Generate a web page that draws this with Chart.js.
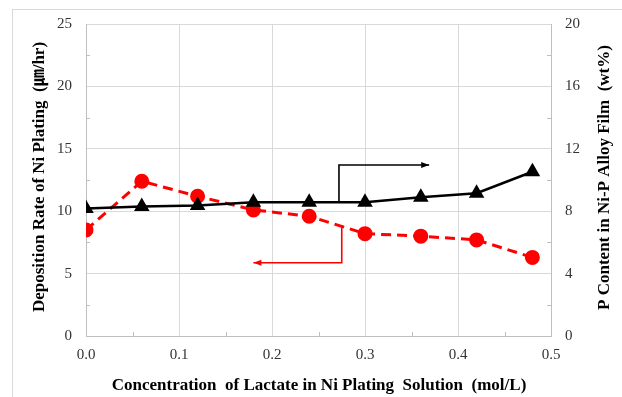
<!DOCTYPE html>
<html>
<head>
<meta charset="utf-8">
<script src="https://cdn.jsdelivr.net/npm/chart.js@4/dist/chart.umd.min.js"></script>
<style>
  html, body { margin: 0; padding: 0; background: #fff; }
  #wrap { position: relative; width: 622px; height: 397px; }
  #frame { position: absolute; left: 12px; top: 9px; right: -2px; bottom: -2px;
           border-left: 1px solid #d9d9d9; border-top: 1px solid #d9d9d9; pointer-events: none; }
</style>
</head>
<body>
<div id="wrap">
  <canvas id="c" width="622" height="397"></canvas>
  <div id="frame"></div>
</div>
<script>
// ---- data ----
const lactateConc = [0.0, 0.06, 0.12, 0.18, 0.24, 0.30, 0.36, 0.42, 0.48];
const depositionRate = [8.5, 12.4, 11.2, 10.1, 9.6, 8.2, 8.0, 7.7, 6.3];      // left axis, um/hr
const pContent = [8.17, 8.3, 8.37, 8.57, 8.57, 8.57, 8.9, 9.15, 10.53];      // right axis, wt%
const xTicks = [0.0, 0.1, 0.2, 0.3, 0.4, 0.5];
const leftTicks = [0, 5, 10, 15, 20, 25];
const rightTicks = [0, 4, 8, 12, 16, 20];
// annotation arrows (data units)
const blackArrowX = [0.272, 0.272, 0.369];
const blackArrowY = [8.59, 10.96, 10.96];   // right axis units
const redArrowX = [0.275, 0.275, 0.180];
const redArrowY = [8.81, 5.87, 5.87];       // left axis units

const xTitle = 'Concentration  of Lactate in Ni Plating  Solution  (mol/L)';
const leftTitle = 'Deposition Rate of Ni Plating  (㎛/hr)';
const rightTitle = 'P Content in Ni-P Alloy Film  (wt%)';

const serif = '"Liberation Serif", "Times New Roman", "Noto Sans CJK JP", serif';

const decor = {
  id: 'decor',
  afterDatasetsDraw(chart) {
    const ctx = chart.ctx;
    const x = chart.scales.x, yl = chart.scales.y, yr = chart.scales.y2;
    const ca = chart.chartArea;
    ctx.save();
    // minor ticks
    ctx.strokeStyle = '#bfbfbf';
    ctx.lineWidth = 1;
    ctx.beginPath();
    for (let i = 0; i < xTicks.length - 1; i++) {
      const v = (xTicks[i] + xTicks[i + 1]) / 2;
      const px = Math.round(x.getPixelForValue(v)) + 0.5;
      ctx.moveTo(px, ca.bottom); ctx.lineTo(px, ca.bottom - 4);
    }
    for (let i = 0; i < leftTicks.length - 1; i++) {
      const v = (leftTicks[i] + leftTicks[i + 1]) / 2;
      const py = Math.round(yl.getPixelForValue(v)) + 0.5;
      ctx.moveTo(ca.left, py); ctx.lineTo(ca.left + 4, py);
    }
    for (let i = 0; i < rightTicks.length - 1; i++) {
      const v = (rightTicks[i] + rightTicks[i + 1]) / 2;
      const py = Math.round(yr.getPixelForValue(v)) + 0.5;
      ctx.moveTo(ca.right, py); ctx.lineTo(ca.right - 4, py);
    }
    ctx.stroke();

    // arrows
    function arrow(xs, ys, yScale, color) {
      const pts = xs.map((v, i) => [x.getPixelForValue(v), yScale.getPixelForValue(ys[i])]);
      ctx.strokeStyle = color; ctx.fillStyle = color; ctx.lineWidth = 1.6;
      ctx.beginPath();
      ctx.moveTo(pts[0][0], pts[0][1]);
      for (let i = 1; i < pts.length; i++) ctx.lineTo(pts[i][0], pts[i][1]);
      ctx.stroke();
      const a = pts[pts.length - 2], b = pts[pts.length - 1];
      const ang = Math.atan2(b[1] - a[1], b[0] - a[0]);
      const L = 8, W = 3;
      ctx.beginPath();
      ctx.moveTo(b[0], b[1]);
      ctx.lineTo(b[0] - L * Math.cos(ang) + W * Math.sin(ang), b[1] - L * Math.sin(ang) - W * Math.cos(ang));
      ctx.lineTo(b[0] - L * Math.cos(ang) - W * Math.sin(ang), b[1] - L * Math.sin(ang) + W * Math.cos(ang));
      ctx.closePath();
      ctx.fill();
    }
    arrow(blackArrowX, blackArrowY, yr, '#000');
    arrow(redArrowX, redArrowY, yl, '#ff0000');

    // titles
    ctx.fillStyle = '#000';
    ctx.font = 'bold 17px ' + serif;
    ctx.textAlign = 'center';
    ctx.textBaseline = 'middle';
    ctx.fillText(xTitle, 319, 386);
    ctx.save();
    ctx.translate(40, 177);
    ctx.rotate(-Math.PI / 2);
    ctx.fillText(leftTitle, 0, 0);
    ctx.restore();
    ctx.save();
    ctx.translate(605, 177.5);
    ctx.rotate(-Math.PI / 2);
    ctx.fillText(rightTitle, 0, 0);
    ctx.restore();
    ctx.restore();
  }
};

new Chart(document.getElementById('c'), {
  type: 'line',
  data: {
    datasets: [
      {
        label: 'P Content',
        data: lactateConc.map((v, i) => ({ x: v, y: pContent[i] })),
        yAxisID: 'y2',
        borderColor: '#000',
        backgroundColor: '#000',
        borderWidth: 2.5,
        pointStyle: 'triangle',
        pointRadius: 6.5,
        pointHoverRadius: 6.5,
        tension: 0
      },
      {
        label: 'Deposition Rate',
        data: lactateConc.map((v, i) => ({ x: v, y: depositionRate[i] })),
        yAxisID: 'y',
        borderColor: '#ff0000',
        backgroundColor: '#ff0000',
        borderWidth: 3,
        borderDash: [10, 6],
        pointStyle: 'circle',
        pointRadius: 6,
        pointHoverRadius: 6,
        tension: 0
      }
    ]
  },
  options: {
    responsive: false,
    animation: false,
    events: [],
    layout: { padding: { top: 24, left: 0, right: 0, bottom: 0 } },
    plugins: { legend: { display: false }, tooltip: { enabled: false } },
    scales: {
      x: {
        type: 'linear', min: 0, max: 0.5,
        afterBuildTicks(s) { s.ticks = xTicks.map(v => ({ value: v })); },
        afterFit(s) { s.height = 61; },
        grid: { color: '#d9d9d9', drawTicks: false },
        border: { color: '#bfbfbf' },
        ticks: { padding: 10, color: '#333', font: { family: serif, size: 15 },
                 callback: v => Number(v).toFixed(1), maxRotation: 0 }
      },
      y: {
        type: 'linear', position: 'left', min: 0, max: 25,
        afterBuildTicks(s) { s.ticks = leftTicks.map(v => ({ value: v })); },
        afterFit(s) { s.width = 86; },
        grid: { color: '#d9d9d9', drawTicks: false },
        border: { color: '#bfbfbf' },
        ticks: { padding: 14, color: '#333', font: { family: serif, size: 15 } }
      },
      y2: {
        type: 'linear', position: 'right', min: 0, max: 20,
        afterBuildTicks(s) { s.ticks = rightTicks.map(v => ({ value: v })); },
        afterFit(s) { s.width = 71; },
        grid: { drawOnChartArea: false, drawTicks: false },
        border: { color: '#bfbfbf' },
        ticks: { padding: 14, color: '#333', font: { family: serif, size: 15 } }
      }
    }
  },
  plugins: [decor]
});
</script>
</body>
</html>
